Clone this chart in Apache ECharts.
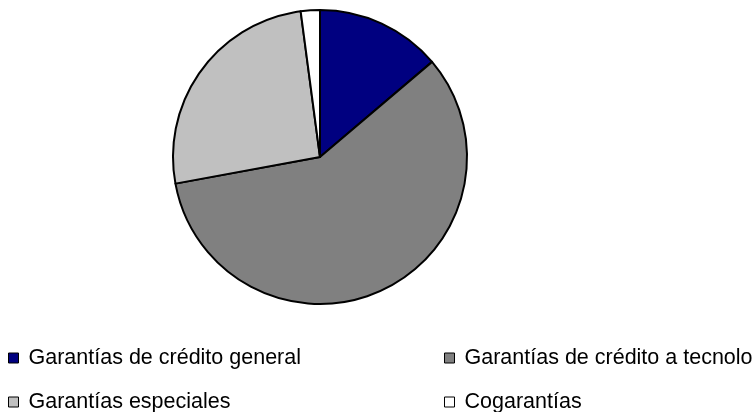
<!DOCTYPE html>
<html>
<head>
<meta charset="utf-8">
<script src="https://cdn.jsdelivr.net/npm/echarts@6/dist/echarts.min.js"></script>
<style>
  html, body { margin: 0; padding: 0; background: #ffffff; }
  #chart { width: 755px; height: 412px; }
</style>
</head>
<body>
<div id="chart"></div>
<script>
// Guarantee types and their share (%)
const categories = [
  'Garantías de crédito general',
  'Garantías de crédito a tecnología',
  'Garantías especiales',
  'Cogarantías'
];
// legend text as it fits in the box (the long one runs off the right edge)
const legendLabels = [
  'Garantías de crédito general',
  'Garantías de crédito a tecnolo',
  'Garantías especiales',
  'Cogarantías'
];
const shares = [13.8, 58.3, 25.8, 2.1];
const colors = ['#000080', '#808080', '#c0c0c0', '#ffffff'];

// Legend grid: two columns, two rows
const legendLeft = [8, 444, 8, 444];
const legendTop = [346, 346, 390, 390];

const chart = echarts.init(document.getElementById('chart'), null, { renderer: 'canvas' });

const legendBase = {
  orient: 'horizontal',
  itemWidth: 10,
  itemHeight: 10,
  icon: 'rect',
  selectedMode: false,
  padding: 0,
  itemStyle: { borderColor: '#000000', borderWidth: 1 },
  formatter: name => legendLabels[categories.indexOf(name)],
  textStyle: {
    fontFamily: 'Liberation Sans, Arial, sans-serif',
    fontSize: 21.5,
    color: '#000000',
    lineHeight: 24,
    padding: [0, 0, 0, 5]
  }
};

chart.setOption({
  animation: false,
  backgroundColor: '#ffffff',
  color: colors,
  legend: categories.map((name, i) =>
    Object.assign({}, legendBase, { left: legendLeft[i], top: legendTop[i], data: [name] })
  ),
  series: [{
    type: 'pie',
    center: [320, 157],
    radius: 147,
    startAngle: 90,
    clockwise: true,
    label: { show: false },
    labelLine: { show: false },
    emphasis: { disabled: true },
    itemStyle: { borderColor: '#000000', borderWidth: 2 },
    data: categories.map((name, i) => ({ name, value: shares[i] }))
  }]
});
</script>
</body>
</html>
